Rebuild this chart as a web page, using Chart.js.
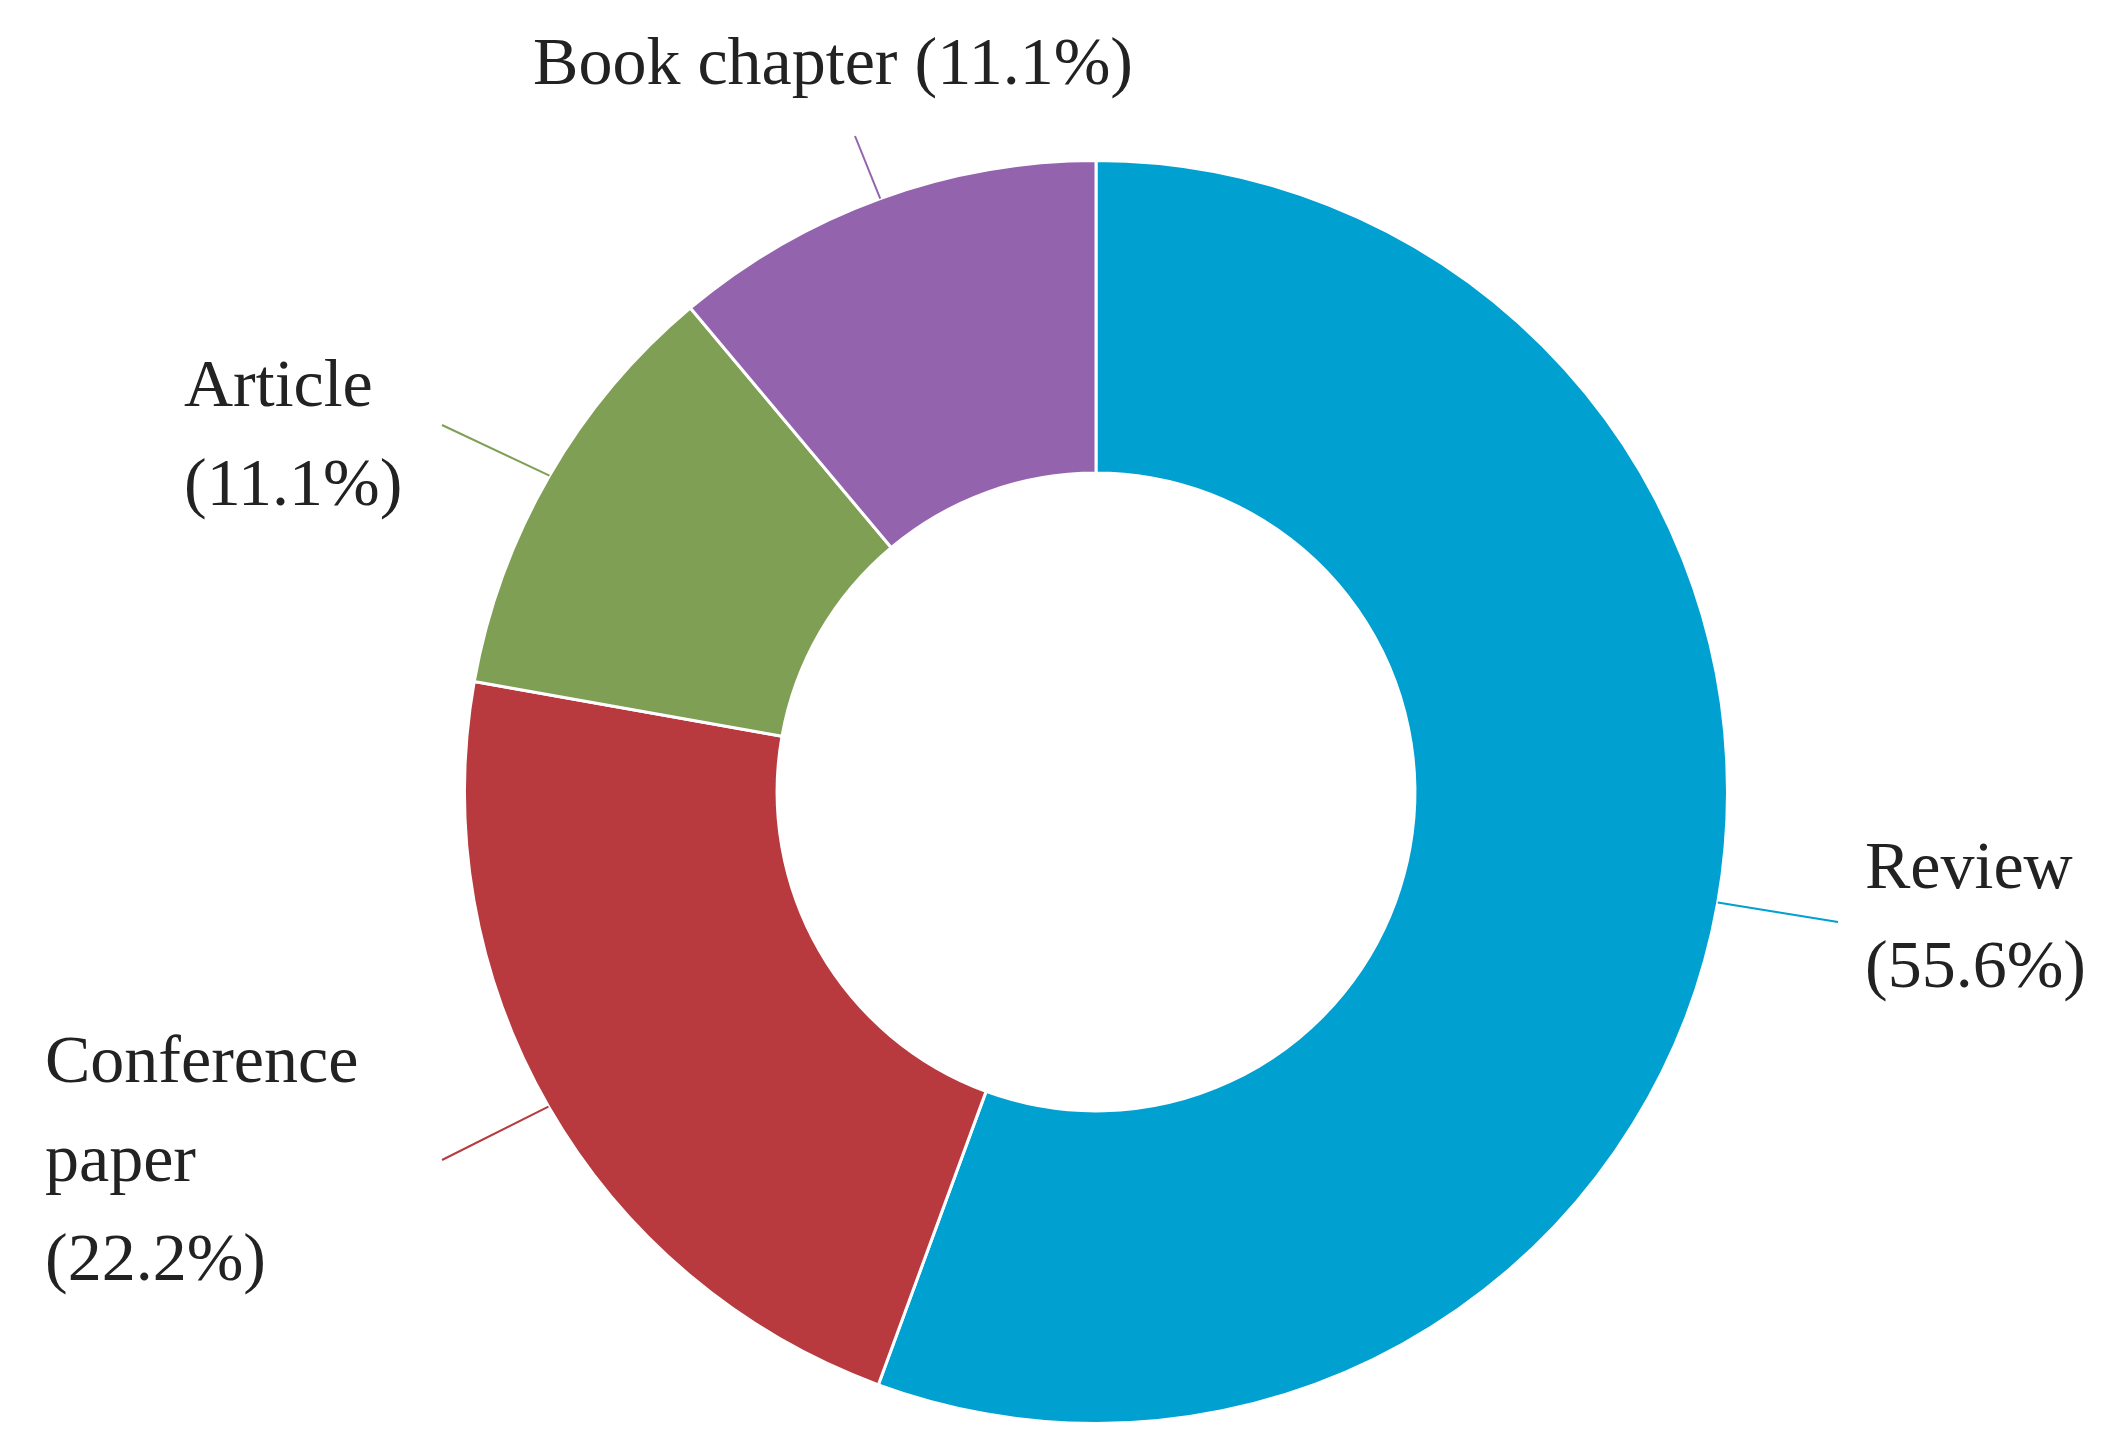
<!DOCTYPE html>
<html><head><meta charset="utf-8">
<script src="https://cdn.jsdelivr.net/npm/chart.js@4"></script>
<style>html,body{margin:0;padding:0;background:#fff}#w{width:2124px;height:1451px}</style>
</head><body><div id="w"><canvas id="c"></canvas></div>
<script>
const categories = ["Review", "Conference paper", "Article", "Book chapter"];
const values = [55.6, 22.2, 11.1, 11.1];
const labelLines = [["Review","(55.6%)"],["Conference","paper","(22.2%)"],["Article","(11.1%)"],["Book chapter (11.1%)"]];
const colors = ["#00A0D0", "#B83A3F", "#7F9F55", "#9463AE"];
// label layout: [textX, firstBaseline, align, leaderEndX, leaderEndY]
const labelLayout = [
  [1865, 888, "left", 1838, 922],
  [45, 1082, "left", 442, 1160],
  [184, 406, "left", 442, 425],
  [833, 84, "center", 855, 136]
];
const leaderPlugin = {
  id: "leaders",
  afterDraw(chart) {
    const ctx = chart.ctx;
    const meta = chart.getDatasetMeta(0);
    ctx.save();
    ctx.font = "68px 'Liberation Serif', serif";
    ctx.fillStyle = "#222";
    meta.data.forEach((arc, i) => {
      const p = arc.getProps(["x","y","startAngle","endAngle","outerRadius"], true);
      const a = (p.startAngle + p.endAngle) / 2;
      const sx = p.x + Math.cos(a) * p.outerRadius, sy = p.y + Math.sin(a) * p.outerRadius;
      const L = labelLayout[i];
      ctx.strokeStyle = colors[i]; ctx.lineWidth = 2;
      ctx.beginPath(); ctx.moveTo(sx, sy); ctx.lineTo(L[3], L[4]); ctx.stroke();
      ctx.textAlign = L[2]; ctx.textBaseline = "alphabetic";
      labelLines[i].forEach((t, j) => ctx.fillText(t, L[0], L[1] + j * 99));
    });
    ctx.restore();
  }
};
new Chart(document.getElementById("c"), {
  type: "doughnut",
  data: { labels: categories, datasets: [{ data: values, backgroundColor: colors, borderColor: "#fff", borderWidth: 3 }] },
  options: {
    responsive: true, maintainAspectRatio: false, devicePixelRatio: 1, animation: false,
    cutout: "50.5%",
    layout: { padding: { top: 159, bottom: 26, left: 463, right: 395 } },
    plugins: { legend: { display: false }, tooltip: { enabled: false } }
  },
  plugins: [leaderPlugin]
});
</script></body></html>
